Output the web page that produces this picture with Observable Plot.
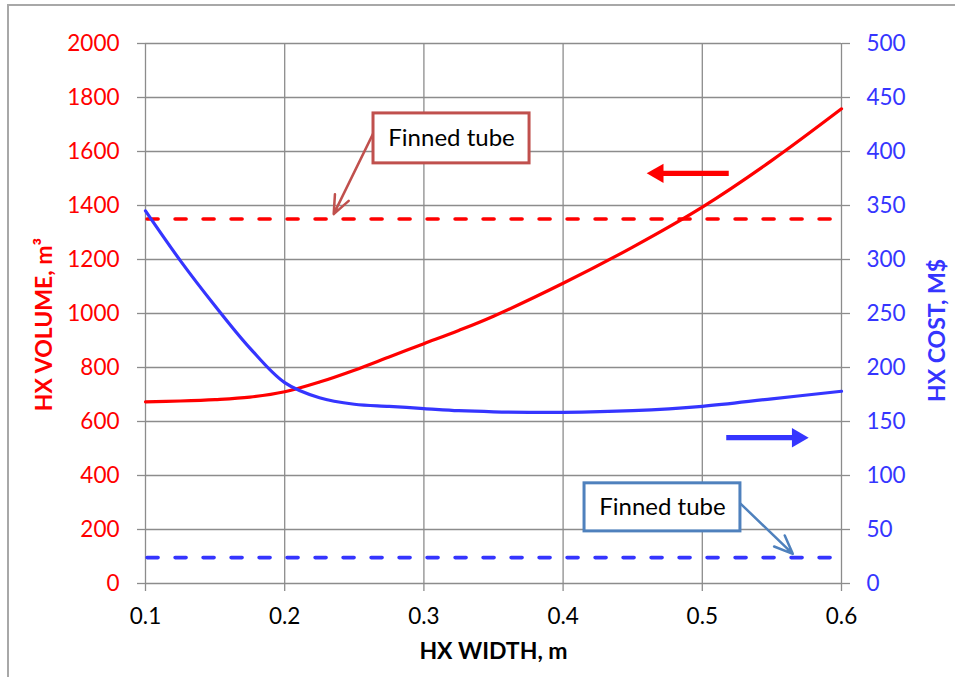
<!DOCTYPE html>
<html>
<head>
<meta charset="utf-8">
<script src="https://cdn.jsdelivr.net/npm/d3@7"></script>
<script src="https://cdn.jsdelivr.net/npm/@observablehq/plot@0.6"></script>
<style>
  html, body { margin: 0; padding: 0; background: #fff; }
  #wrap { position: relative; width: 956px; height: 677px; }
  #border { position: absolute; left: 7px; top: 4px; width: 946px; height: 690px;
            border-top: 2px solid #a8a8a8; border-left: 2px solid #a8a8a8; pointer-events: none; }
</style>
</head>
<body>
<div id="wrap"><div id="border"></div></div>
<script>
// ---- data ----
const widths = [0.1, 0.125, 0.15, 0.175, 0.2, 0.225, 0.25, 0.275, 0.3, 0.325, 0.35, 0.4, 0.45, 0.5, 0.55, 0.6];
const volume = [673, 676, 681, 690, 710, 746, 790, 839, 888, 937, 990, 1112, 1246, 1394, 1567, 1758];
const cost   = [345, 299, 257, 218, 186, 172, 166, 164, 162, 160, 159, 158.5, 160, 164, 171, 178];
const xTicks = [0.1, 0.2, 0.3, 0.4, 0.5, 0.6];
const volumeTicks = [0, 200, 400, 600, 800, 1000, 1200, 1400, 1600, 1800, 2000];
const costTicks = [0, 50, 100, 150, 200, 250, 300, 350, 400, 450, 500];
const finnedVolume = 1350;
const finnedCost = 24;
const finnedLabel = "Finned tube";

// ---- derived ----
const ratio = 2000 / 500; // volume units per cost unit (dual axis)
const volRows = widths.map((w, i) => ({w, v: volume[i]}));
const costRows = widths.map((w, i) => ({w, v: cost[i] * ratio}));

const RED = "#ff0000";
const BLUE = "#3535ff";
const GRID = "#8c8c8c";
const BOX_RED = "#c0504d";
const BOX_BLUE = "#4f81bd";
const FONT = "Lato, 'Open Sans', sans-serif";
const TICK_FS = 22.5;

// annotation placements (data coordinates)
const boxes = [
  {x1: 0.2638, x2: 0.3759, y1: 1556, y2: 1741, stroke: BOX_RED},
  {x1: 0.4154, x2: 0.5274, y1: 193, y2: 371, stroke: BOX_BLUE}
];
const callouts = [
  {x1: 0.2636, y1: 1667, x2: 0.2352, y2: 1368, stroke: BOX_RED},
  {x1: 0.5274, y1: 296, x2: 0.5650, y2: 110, stroke: BOX_BLUE}
];
const bigArrows = [
  {x1: 0.5190, x2: 0.4690, y: 1519, head: 0.4681, rot: -90, color: RED},
  {x1: 0.5172, x2: 0.5675, y: 540, head: 0.5684, rot: 90, color: BLUE}
];

const chart = Plot.plot({
  width: 956,
  height: 677,
  marginLeft: 145,
  marginRight: 115,
  marginTop: 43,
  marginBottom: 94,
  x: {domain: [0.1, 0.6]},
  y: {domain: [0, 2000]},
  style: {fontFamily: FONT, fontSize: "22px", background: "white", overflow: "visible"},
  marks: [
    Plot.gridX(xTicks, {stroke: GRID, strokeOpacity: 1, strokeWidth: 1.3}),
    Plot.gridY(volumeTicks, {stroke: GRID, strokeOpacity: 1, strokeWidth: 1.3}),
    Plot.axisX(xTicks, {tickSize: 8, tickPadding: 17, stroke: GRID, strokeWidth: 1.3, fill: "black", fontSize: TICK_FS, tickFormat: d3.format(".1f"), label: null}),
    Plot.axisY(volumeTicks, {anchor: "left", tickSize: 8, tickPadding: 18, stroke: GRID, strokeWidth: 1.3, fill: RED, fontSize: TICK_FS, tickFormat: d => String(d), label: null}),
    Plot.axisY(costTicks.map(c => c * ratio), {anchor: "right", tickSize: 8, tickPadding: 17, stroke: GRID, strokeWidth: 1.3, fill: BLUE, fontSize: TICK_FS, tickFormat: d => String(d / ratio), label: null}),
    // finned tube reference lines
    Plot.ruleY([finnedVolume], {x1: 0.1015, x2: 0.596, stroke: RED, strokeWidth: 3.6, strokeDasharray: "11,17", strokeLinecap: "round"}),
    Plot.ruleY([finnedCost * ratio], {x1: 0.1015, x2: 0.596, stroke: BLUE, strokeWidth: 3.6, strokeDasharray: "11,17", strokeLinecap: "round"}),
    // curves
    Plot.line(volRows, {x: "w", y: "v", stroke: RED, strokeWidth: 3.2, curve: "catmull-rom"}),
    Plot.line(costRows, {x: "w", y: "v", stroke: BLUE, strokeWidth: 3.2, curve: "catmull-rom"}),
    // callout arrows + boxes
    Plot.arrow(callouts, {x1: "x1", y1: "y1", x2: "x2", y2: "y2", stroke: "stroke", strokeWidth: 2.5, headLength: 12, headAngle: 45}),
    Plot.rect(boxes, {x1: "x1", x2: "x2", y1: "y1", y2: "y2", fill: "white", stroke: "stroke", strokeWidth: 3}),
    Plot.text(boxes, {x: d => (d.x1 + d.x2) / 2, y: d => (d.y1 + d.y2) / 2, text: () => finnedLabel, fill: "black", fontSize: 24}),
    // axis direction arrows
    Plot.link(bigArrows, {x1: "x1", x2: "x2", y1: "y", y2: "y", stroke: "color", strokeWidth: 5.3}),
    Plot.dot(bigArrows, {x: "head", y: "y", symbol: "triangle", r: 7.2, rotate: "rot", fill: "color", stroke: "none"}),
    // axis titles
    Plot.text(["HX WIDTH, m"], {text: d => d, frameAnchor: "bottom", dy: 75, fontWeight: "bold", fontSize: 23, fill: "black"}),
    Plot.text(["HX VOLUME, m³"], {text: d => d, frameAnchor: "left", dx: -101, dy: 11, rotate: -90, fontWeight: "bold", fontSize: 23, fill: RED, textAnchor: "middle"}),
    Plot.text(["HX COST, M$"], {text: d => d, frameAnchor: "right", dx: 96, dy: 17, rotate: -90, fontWeight: "bold", fontSize: 23, fill: BLUE, textAnchor: "middle"})
  ]
});
document.getElementById("wrap").prepend(chart);
</script>
</body>
</html>
